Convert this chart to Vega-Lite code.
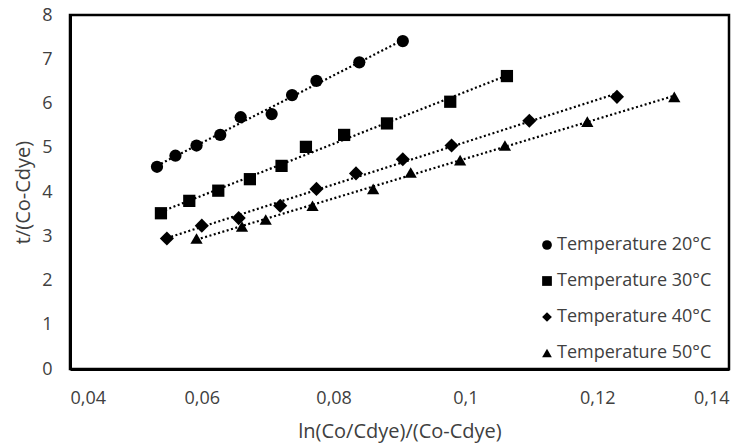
{
  "$schema": "https://vega.github.io/schema/vega-lite/v6.json",
  "width": 659,
  "height": 354,
  "autosize": {"type": "none"},
  "padding": {"left": 70, "top": 15, "right": 18, "bottom": 77},
  "background": "white",
  "config": {
    "view": {"stroke": "black", "strokeWidth": 2.5},
    "font": "Open Sans",
    "axis": {"grid": false, "ticks": false, "domain": true, "domainColor": "black", "domainWidth": 3, "labelColor": "#404040", "labelFontSize": 18, "titleColor": "#404040", "titleFontSize": 20, "titleFontWeight": "normal"}
  },
  "data": {
    "values": [
      {"series": "Temperature 20°C", "x": 0.0532, "y": 4.57},
      {"series": "Temperature 20°C", "x": 0.0560, "y": 4.82},
      {"series": "Temperature 20°C", "x": 0.0592, "y": 5.05},
      {"series": "Temperature 20°C", "x": 0.0628, "y": 5.29},
      {"series": "Temperature 20°C", "x": 0.0659, "y": 5.69},
      {"series": "Temperature 20°C", "x": 0.0706, "y": 5.76},
      {"series": "Temperature 20°C", "x": 0.0737, "y": 6.19},
      {"series": "Temperature 20°C", "x": 0.0774, "y": 6.51},
      {"series": "Temperature 20°C", "x": 0.0839, "y": 6.93},
      {"series": "Temperature 20°C", "x": 0.0905, "y": 7.41},
      {"series": "Temperature 30°C", "x": 0.0538, "y": 3.52},
      {"series": "Temperature 30°C", "x": 0.0581, "y": 3.80},
      {"series": "Temperature 30°C", "x": 0.0625, "y": 4.03},
      {"series": "Temperature 30°C", "x": 0.0673, "y": 4.29},
      {"series": "Temperature 30°C", "x": 0.0721, "y": 4.59},
      {"series": "Temperature 30°C", "x": 0.0758, "y": 5.02},
      {"series": "Temperature 30°C", "x": 0.0816, "y": 5.29},
      {"series": "Temperature 30°C", "x": 0.0881, "y": 5.55},
      {"series": "Temperature 30°C", "x": 0.0977, "y": 6.04},
      {"series": "Temperature 30°C", "x": 0.1063, "y": 6.62},
      {"series": "Temperature 40°C", "x": 0.0547, "y": 2.95},
      {"series": "Temperature 40°C", "x": 0.0600, "y": 3.24},
      {"series": "Temperature 40°C", "x": 0.0656, "y": 3.41},
      {"series": "Temperature 40°C", "x": 0.0719, "y": 3.69},
      {"series": "Temperature 40°C", "x": 0.0774, "y": 4.07},
      {"series": "Temperature 40°C", "x": 0.0834, "y": 4.42},
      {"series": "Temperature 40°C", "x": 0.0905, "y": 4.74},
      {"series": "Temperature 40°C", "x": 0.0979, "y": 5.05},
      {"series": "Temperature 40°C", "x": 0.1097, "y": 5.61},
      {"series": "Temperature 40°C", "x": 0.1230, "y": 6.15},
      {"series": "Temperature 50°C", "x": 0.0592, "y": 2.95},
      {"series": "Temperature 50°C", "x": 0.0661, "y": 3.22},
      {"series": "Temperature 50°C", "x": 0.0697, "y": 3.38},
      {"series": "Temperature 50°C", "x": 0.0768, "y": 3.69},
      {"series": "Temperature 50°C", "x": 0.0860, "y": 4.07},
      {"series": "Temperature 50°C", "x": 0.0917, "y": 4.44},
      {"series": "Temperature 50°C", "x": 0.0992, "y": 4.72},
      {"series": "Temperature 50°C", "x": 0.1060, "y": 5.05},
      {"series": "Temperature 50°C", "x": 0.1185, "y": 5.59},
      {"series": "Temperature 50°C", "x": 0.1317, "y": 6.15}
    ]
  },
  "encoding": {
    "x": {
      "field": "x", "type": "quantitative",
      "scale": {"domain": [0.04, 0.14], "nice": false, "zero": false},
      "axis": {"values": [0.04, 0.06, 0.08, 0.1, 0.12, 0.14], "labelExpr": "replace(format(datum.value, '~g'), '.', ',')", "labelPadding": 20, "title": "ln(Co/Cdye)/(Co-Cdye)", "titlePadding": 14}
    },
    "y": {
      "field": "y", "type": "quantitative",
      "scale": {"domain": [0, 8], "nice": false},
      "axis": {"values": [0, 1, 2, 3, 4, 5, 6, 7, 8], "labelPadding": 18, "title": "t/(Co-Cdye)", "titlePadding": 8}
    }
  },
  "layer": [
    {
      "transform": [{"regression": "y", "on": "x", "groupby": ["series"], "method": "linear"}],
      "mark": {"type": "line", "color": "black", "strokeWidth": 2.2, "strokeDash": [2, 2.5], "strokeCap": "butt"},
      "encoding": {
        "detail": {"field": "series"}
      }
    },
    {
      "transform": [{"filter": "datum.series != 'Temperature 40°C'"}],
      "mark": {"type": "point", "filled": true, "opacity": 1, "color": "black", "size": 150},
      "encoding": {
        "shape": {
          "field": "series", "type": "nominal",
          "scale": {"domain": ["Temperature 20°C", "Temperature 30°C", "Temperature 40°C", "Temperature 50°C"], "range": ["circle", "square", "diamond", "triangle-up"]},
          "legend": {"title": null, "orient": "none", "legendX": 468, "legendY": 221, "symbolSize": 95, "symbolFillColor": "black", "symbolStrokeColor": "black", "labelFontSize": 18, "labelColor": "#404040", "rowPadding": 18, "labelOffset": 1}
        }
      }
    },
    {
      "transform": [{"filter": "datum.series == 'Temperature 40°C'"}],
      "mark": {"type": "point", "filled": true, "opacity": 1, "color": "black", "size": 200},
      "encoding": {
        "shape": {
          "field": "series", "type": "nominal",
          "scale": {"domain": ["Temperature 20°C", "Temperature 30°C", "Temperature 40°C", "Temperature 50°C"], "range": ["circle", "square", "diamond", "triangle-up"]},
          "legend": {"title": null, "orient": "none", "legendX": 468, "legendY": 221, "symbolSize": 95, "symbolFillColor": "black", "symbolStrokeColor": "black", "labelFontSize": 18, "labelColor": "#404040", "rowPadding": 18, "labelOffset": 1}
        }
      }
    }
  ]
}
